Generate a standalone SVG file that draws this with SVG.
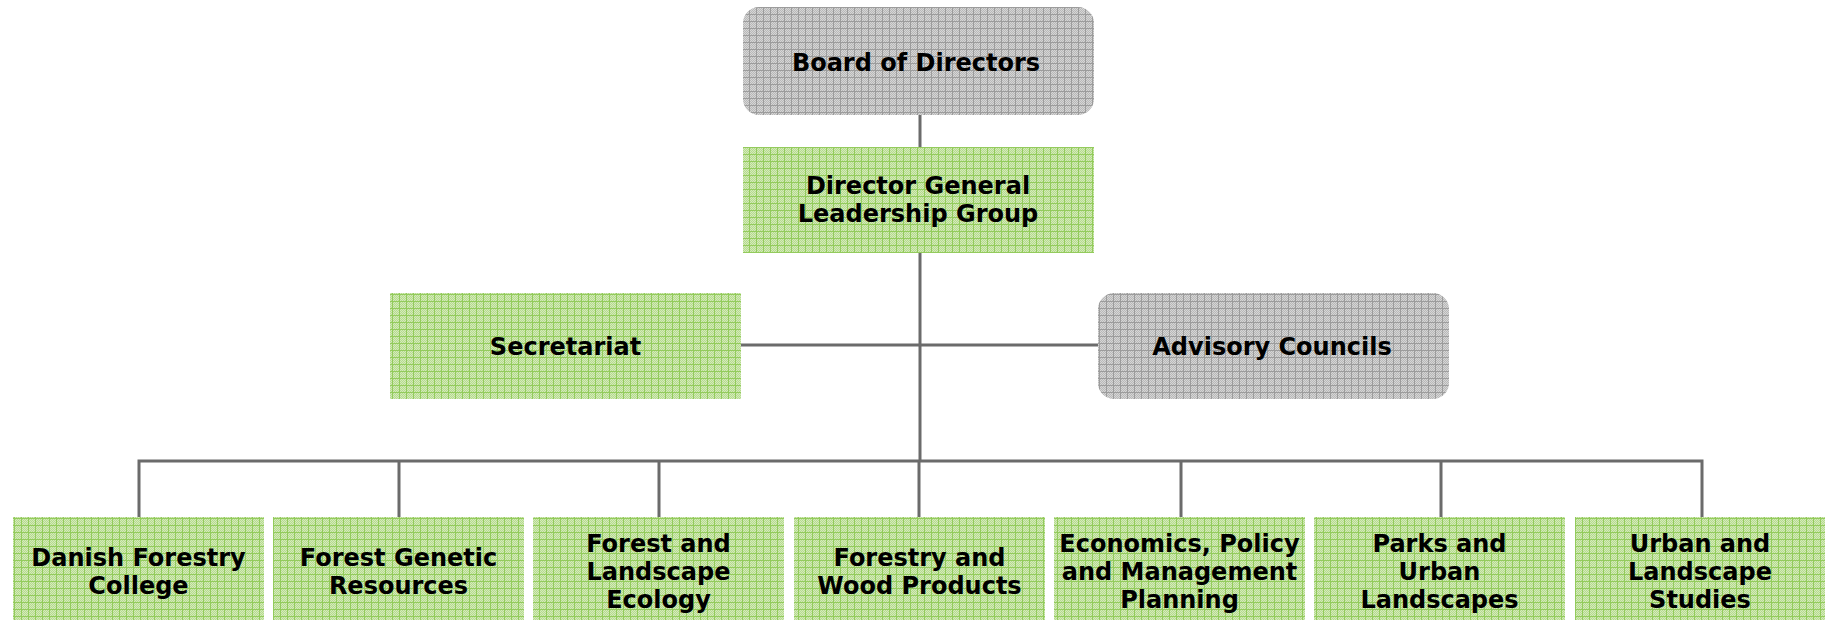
<svg xmlns="http://www.w3.org/2000/svg" width="1825" height="621" viewBox="0 0 1825 621">
<defs>
<pattern id="gChk" width="2" height="2" patternUnits="userSpaceOnUse">
<rect width="2" height="2" fill="#d3eabb"/>
<rect width="1" height="1" fill="#b6db8d"/>
<rect x="1" y="1" width="1" height="1" fill="#b6db8d"/>
</pattern>
<pattern id="green" width="7" height="7" patternUnits="userSpaceOnUse">
<rect width="7" height="7" fill="url(#gChk)"/>
<rect width="7" height="1" fill="#93cb5c"/>
<rect width="1" height="7" fill="#93cb5c"/>
</pattern>
<pattern id="yChk" width="2" height="2" patternUnits="userSpaceOnUse">
<rect width="2" height="2" fill="#d6d6d6"/>
<rect width="1" height="1" fill="#b8b8b8"/>
<rect x="1" y="1" width="1" height="1" fill="#b8b8b8"/>
</pattern>
<pattern id="gray" width="7" height="7" patternUnits="userSpaceOnUse">
<rect width="7" height="7" fill="url(#yChk)"/>
<rect width="7" height="1" fill="#9c9c9c"/>
<rect width="1" height="7" fill="#9c9c9c"/>
</pattern>
</defs>
<style>
.g{fill:url(#green)}
.y{fill:url(#gray)}
.t{font-family:"DejaVu Sans","Liberation Sans",sans-serif;font-weight:bold;font-size:24px;fill:#000;text-anchor:middle}
.c{stroke:#6b6b6b;stroke-width:3;fill:none}
</style>
<rect width="1825" height="621" fill="#fff"/>
<g id="connectors" class="c">
<path d="M920 115V147"/>
<path d="M920 253V461"/>
<path d="M741 345H1098"/>
<path d="M139 518V461H1702V518"/>
<path d="M399 461V518M659 461V518M919 461V518M1181 461V518M1441 461V518"/>
</g>
<g id="board"><rect class="y" x="743" y="7" width="351" height="108" rx="16"/><text class="t" x="916" y="71">Board of Directors</text></g>
<g id="dg"><rect class="g" x="743" y="147" width="351" height="106"/><text class="t" x="918"><tspan x="918" y="194">Director General</tspan><tspan x="918" y="222">Leadership Group</tspan></text></g>
<g id="secretariat"><rect class="g" x="390" y="293" width="351" height="106"/><text class="t" x="565.5" y="355">Secretariat</text></g>
<g id="advisory"><rect class="y" x="1098" y="293" width="351" height="106" rx="16"/><text class="t" x="1272" y="355">Advisory Councils</text></g>
<g id="dfc"><rect class="g" x="13" y="517" width="251" height="103"/><text class="t"><tspan x="138.5" y="566">Danish Forestry</tspan><tspan x="138.5" y="594">College</tspan></text></g>
<g id="fgr"><rect class="g" x="273" y="517" width="251" height="103"/><text class="t"><tspan x="398.5" y="566">Forest Genetic</tspan><tspan x="398.5" y="594">Resources</tspan></text></g>
<g id="fle"><rect class="g" x="533" y="517" width="251" height="103"/><text class="t"><tspan x="658.5" y="552">Forest and</tspan><tspan x="658.5" y="580">Landscape</tspan><tspan x="658.5" y="608">Ecology</tspan></text></g>
<g id="fwp"><rect class="g" x="794" y="517" width="251" height="103"/><text class="t"><tspan x="919.5" y="566">Forestry and</tspan><tspan x="919.5" y="594">Wood Products</tspan></text></g>
<g id="epm"><rect class="g" x="1054" y="517" width="251" height="103"/><text class="t"><tspan x="1179.5" y="552">Economics, Policy</tspan><tspan x="1179.5" y="580">and Management</tspan><tspan x="1179.5" y="608">Planning</tspan></text></g>
<g id="pul"><rect class="g" x="1314" y="517" width="251" height="103"/><text class="t"><tspan x="1439.5" y="552">Parks and</tspan><tspan x="1439.5" y="580">Urban</tspan><tspan x="1439.5" y="608">Landscapes</tspan></text></g>
<g id="uls"><rect class="g" x="1575" y="517" width="250" height="103"/><text class="t"><tspan x="1700" y="552">Urban and</tspan><tspan x="1700" y="580">Landscape</tspan><tspan x="1700" y="608">Studies</tspan></text></g>
</svg>
